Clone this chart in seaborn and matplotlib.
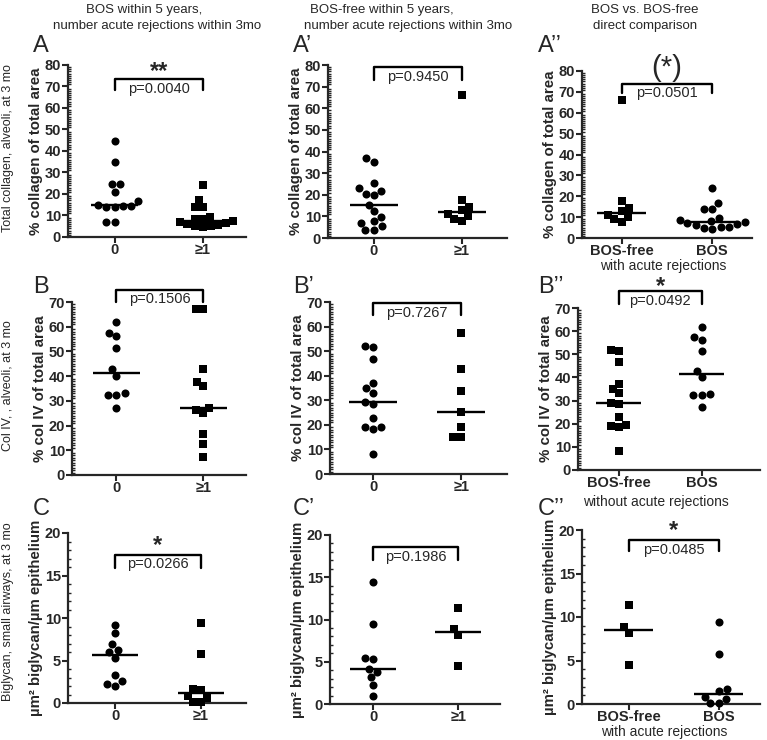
import numpy as np
import matplotlib
matplotlib.use("Agg")
import matplotlib.pyplot as plt
import seaborn as sns
from matplotlib.ticker import MultipleLocator

# total collagen, alveoli, % of total area
col_bos_0 = [44.5, 35.0, 24.5, 24.5, 21.0, 16.8, 14.8, 14.6, 14.5, 14.0, 13.8, 7.0, 7.0]
col_bos_1 = [24.0, 17.0, 14.0, 14.0, 9.5, 8.5, 8.3, 7.5, 7.0, 6.5, 6.0, 5.5, 5.2, 5.0, 4.5]
col_free_0 = [36.8, 35.0, 25.5, 22.9, 21.8, 20.4, 19.8, 15.4, 12.4, 9.7, 7.7, 7.0, 5.4, 3.9, 3.9]
col_free_1 = [66.0, 17.5, 14.4, 12.8, 11.0, 10.0, 8.9, 7.9]

# col IV, alveoli, % of total area
c4_bos_0 = [61.9, 57.5, 56.3, 51.5, 42.8, 40.0, 33.0, 32.3, 32.3, 27.2]
c4_bos_1 = [67.3, 67.0, 43.0, 37.7, 36.0, 27.2, 26.2, 24.9, 16.5, 12.5, 7.4]
c4_free_0 = [52.0, 51.5, 46.6, 37.2, 35.1, 33.1, 29.1, 28.4, 22.7, 19.3, 19.1, 18.4, 8.2]
c4_free_1 = [57.4, 42.7, 33.9, 25.1, 19.3, 14.9, 14.9]

# biglycan, small airways, um2 / um epithelium
bgn_bos_0 = [9.2, 8.2, 6.9, 6.2, 6.0, 5.3, 3.3, 2.6, 2.2, 2.0]
bgn_bos_1 = [9.4, 5.8, 1.7, 1.5, 0.8, 0.6, 0.1, 0.1]
bgn_free_0 = [14.4, 9.5, 5.4, 5.3, 4.2, 3.8, 3.2, 2.3, 0.95]
bgn_free_1 = [11.4, 8.9, 8.2, 4.5]

ar_cats = ["0", "\u22651"]
grp_cats = ["BOS-free", "BOS"]

col_titles = [("BOS within 5 years,", "number acute rejections within 3mo"),
              ("BOS-free within 5 years,", "number acute rejections within 3mo"),
              ("BOS vs. BOS-free", "direct comparison")]
row_titles = ["Total collagen, alveoli, at 3 mo", "Col IV, , alveoli, at 3 mo",
              "Biglycan, small airways, at 3 mo"]
ylabels = ["% collagen of total area", "% col IV of total area",
           "\u00b5m\u00b2 biglycan/\u00b5m epithelium"]

sns.set_style("ticks")
plt.rcParams["font.family"] = ["Liberation Sans", "DejaVu Sans"]

W, H = 767, 740
fig = plt.figure(figsize=(W / 100, H / 100), dpi=100)


def px_rect(l, t, r, b):
    return [l / W, 1 - b / H, (r - l) / W, (b - t) / H]


def ftext(x, y, s, **kw):
    fig.text(x / W, 1 - y / H, s, **kw)


# one entry per panel: data, markers, cats, limits, layout, bracket
panels = [
    dict(name="A", vals=(col_bos_0, col_bos_1), mk=("o", "s"), cats=ar_cats, ymax=80, major=10,
         rect=(68, 65, 246, 237), xlim=(-0.53, 1.49), br=(68.5, 73.5), p="p=0.0040",
         star="**", star_dy=1, row=0, sub=None),
    dict(name="A\u2019", vals=(col_free_0, col_free_1), mk=("o", "s"), cats=ar_cats, ymax=80, major=10,
         rect=(328, 65, 507, 238), xlim=(-0.52, 1.51), br=(73.0, 79.2), p="p=0.9450",
         star=None, star_dy=0, row=0, sub=None),
    dict(name="A\u2019\u2019", vals=(col_free_1, col_bos_1), mk=("s", "o"), cats=grp_cats, ymax=80, major=10,
         rect=(582, 71, 752, 238), xlim=(-0.44, 1.44), br=(69.3, 74.0), p="p=0.0501",
         star="(*)", star_dy=1, row=0, sub="with acute rejections"),
    dict(name="B", vals=(c4_bos_0, c4_bos_1), mk=("o", "s"), cats=ar_cats, ymax=70, major=10,
         rect=(72, 302, 246, 475), xlim=(-0.51, 1.49), br=(70.0, 75.0), p="p=0.1506",
         star=None, star_dy=0, row=1, sub=None),
    dict(name="B\u2019", vals=(c4_free_0, c4_free_1), mk=("o", "s"), cats=ar_cats, ymax=70, major=10,
         rect=(330, 302, 507, 474), xlim=(-0.49, 1.52), br=(64.6, 69.6), p="p=0.7267",
         star=None, star_dy=0, row=1, sub=None),
    dict(name="B\u2019\u2019", vals=(c4_free_0, c4_bos_0), mk=("s", "o"), cats=grp_cats, ymax=70, major=10,
         rect=(578, 308, 760, 470), xlim=(-0.49, 1.70), br=(71.9, 77.2), p="p=0.0492",
         star="*", star_dy=-1, row=1, sub="without acute rejections"),
    dict(name="C", vals=(bgn_bos_0, bgn_bos_1), mk=("o", "s"), cats=ar_cats, ymax=20, major=5,
         rect=(68, 533, 246, 703), xlim=(-0.55, 1.53), br=(15.9, 17.45), p="p=0.0266",
         star="*", star_dy=2, row=2, sub=None),
    dict(name="C\u2019", vals=(bgn_free_0, bgn_free_1), mk=("o", "s"), cats=ar_cats, ymax=20, major=5,
         rect=(330, 535, 500, 704), xlim=(-0.51, 1.49), br=(17.1, 18.6), p="p=0.1986",
         star=None, star_dy=0, row=2, sub=None),
    dict(name="C\u2019\u2019", vals=(bgn_free_1, bgn_bos_1), mk=("s", "o"), cats=grp_cats, ymax=20, major=5,
         rect=(582, 530, 760, 704), xlim=(-0.52, 1.46), br=(17.6, 18.85), p="p=0.0485",
         star="*", star_dy=2, row=2, sub="with acute rejections"),
]

letter_y = [46, 287, 509]
letter_x = [33, 293, 538]
sub_xy = {0: (663, 266), 1: (656, 502), 2: (664, 732)}

for k, pn in enumerate(panels):
    ax = fig.add_axes(px_rect(*pn["rect"]))
    for i, (v, m) in enumerate(zip(pn["vals"], pn["mk"])):
        sns.swarmplot(x=[pn["cats"][i]] * len(v), y=v, order=pn["cats"], marker=m,
                      color="black", size=5.8 if m == "o" else 5.4, linewidth=0, ax=ax)
        ax.hlines(np.median(v), i - 0.27, i + 0.27, color="black", lw=1.7, zorder=3)
    for c in ax.collections:
        c.set_clip_on(False)

    ax.set_xlim(*pn["xlim"])
    ax.set_ylim(0, pn["ymax"])
    ax.yaxis.set_major_locator(MultipleLocator(pn["major"]))
    ax.yaxis.set_minor_locator(MultipleLocator(1))
    ax.set_xticks([0, 1])
    ax.set_xticklabels(pn["cats"], fontsize=10.5, fontweight="bold")
    ax.tick_params(axis="both", which="major", direction="out", length=4, width=1.5, labelsize=10.5, pad=1)
    ax.tick_params(axis="x", which="major", pad=0.5)
    ax.tick_params(axis="y", which="minor", direction="in", length=2.5, width=1.0)
    for lab in ax.get_yticklabels():
        lab.set_fontweight("bold")
    ax.set_ylabel(ylabels[pn["row"]], fontsize=10.8, fontweight="bold", labelpad=1)
    ax.set_xlabel("")
    sns.despine(ax=ax)
    for s in ("left", "bottom"):
        ax.spines[s].set_linewidth(1.6)

    # significance bracket, p-value under its top bar, stars above
    yb, yt = pn["br"]
    ax.plot([0, 0, 1, 1], [yb, yt, yt, yb], color="black", lw=1.7, clip_on=False)
    ax.annotate(pn["p"], xy=(0.5, yt), xytext=(0, -2), textcoords="offset points",
                ha="center", va="top", fontsize=10.5, annotation_clip=False)
    if pn["star"] == "(*)":
        ax.annotate(pn["star"], xy=(0.5, yt), xytext=(0, pn["star_dy"]), textcoords="offset points",
                    ha="center", va="bottom", fontsize=21, annotation_clip=False)
    elif pn["star"]:
        ax.annotate(pn["star"], xy=(0.5, yt), xytext=(0, pn["star_dy"]), textcoords="offset points",
                    ha="center", va="baseline", fontsize=17, fontweight="bold", annotation_clip=False)

    ftext(letter_x[k % 3], letter_y[k // 3], pn["name"], fontsize=17, ha="left", va="center")
    if pn["sub"]:
        sx, sy_ = sub_xy[pn["row"]]
        ftext(sx, sy_, pn["sub"], fontsize=10, ha="center", va="center")

# column headers
title_cx = [(144, 157), (382, 408), (645, 645)]
for (l1, l2), (x1, x2) in zip(col_titles, title_cx):
    ftext(x1, 10, l1, fontsize=9.5, ha="center", va="center")
    ftext(x2, 26, l2, fontsize=9.5, ha="center", va="center")

# row headers
for t, yc in zip(row_titles, [148, 386, 612]):
    ftext(8, yc, t, fontsize=9, rotation=90, ha="center", va="center")

fig.savefig("out.png", dpi=100)
